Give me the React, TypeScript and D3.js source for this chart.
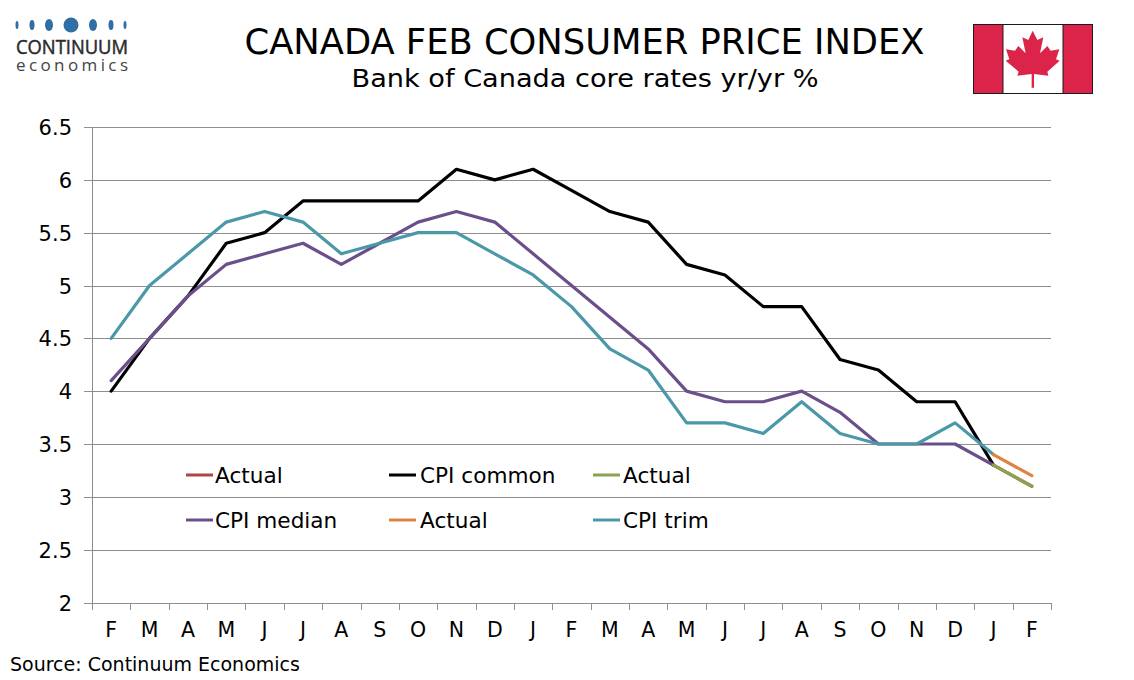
import React from "react";
import * as d3 from "d3";

const months = ["F","M","A","M","J","J","A","S","O","N","D","J","F","M","A","M","J","J","A","S","O","N","D","J","F"];
const yTicks = [2,2.5,3,3.5,4,4.5,5,5.5,6,6.5];
const common = [4.0,4.5,4.9,5.4,5.5,5.8,5.8,5.8,5.8,6.1,6.0,6.1,5.9,5.7,5.6,5.2,5.1,4.8,4.8,4.3,4.2,3.9,3.9,3.3];
const median = [4.1,4.5,4.9,5.2,5.3,5.4,5.2,5.4,5.6,5.7,5.6,5.3,5.0,4.7,4.4,4.0,3.9,3.9,4.0,3.8,3.5,3.5,3.5,3.3];
const trim = [4.5,5.0,5.3,5.6,5.7,5.6,5.3,5.4,5.5,5.5,5.3,5.1,4.8,4.4,4.2,3.7,3.7,3.6,3.9,3.6,3.5,3.5,3.7,3.4];
const actualCommon = [3.3,3.1];
const actualMedian = [3.3,3.1];
const actualTrim = [3.4,3.2];
const leaf = [[218,62],[232,90],[250,82],[240,130],[262,108],[272,122],[298,118],[288,148],[299,152],[262,185],[265,197],[222,192],[222,233],[215,233],[215,192],[172,197],[176,185],[137,152],[148,148],[138,118],[165,122],[175,108],[197,130],[187,82],[205,90]];
const dots = [[17,1.5,4],[32,2.5,5],[49,4,6],[71,7.5,7.5],[93,4,6],[111,2.5,5],[125,1.5,4]];

const FONT = "'DejaVu Sans', Verdana, sans-serif";
const COL = { common:"#000000", median:"#6a4f8a", trim:"#4a98a8", red:"#b0453f", green:"#8aa350", orange:"#dd8440" };

const x = d3.scaleBand<number>().domain(d3.range(months.length)).range([92,1051]);
const y = d3.scaleLinear().domain([2,6.5]).range([602.5,127]);
const cx = (i:number)=> (x(i) as number) + x.bandwidth()/2;
const line = d3.line<number>().x((_, i)=>cx(i)).y(d=>y(d));
const lineFrom = (start:number)=> d3.line<number>().x((_, i)=>cx(start+i)).y(d=>y(d));

const series = [
  {v:common,s:0,c:COL.common},{v:median,s:0,c:COL.median},{v:trim,s:0,c:COL.trim},
  {v:actualCommon,s:23,c:COL.red},{v:actualTrim,s:23,c:COL.orange},{v:actualMedian,s:23,c:COL.green},
];
const legend = [
  {t:"Actual",c:COL.red,x:186,y:475},{t:"CPI common",c:COL.common,x:389,y:475},{t:"Actual",c:COL.green,x:593,y:475},
  {t:"CPI median",c:COL.median,x:186,y:520},{t:"Actual",c:COL.orange,x:389,y:520},{t:"CPI trim",c:COL.trim,x:593,y:520},
];

export default function App(){
  return (
    <svg width={1134} height={680} style={{position:"absolute",left:0,top:0,background:"#fff"}} fontFamily={FONT}>
      {dots.map(([dx,rx,ry],i)=><ellipse key={i} cx={dx} cy={25} rx={rx} ry={ry} fill="#2f6fa6"/>)}
      <text x={16} y={54} fontSize={19.5} stroke="#2b2b2b" strokeWidth={0.5} fill="#2b2b2b" fontFamily="'Open Sans', sans-serif" textLength={112} lengthAdjust="spacingAndGlyphs">CONTINUUM</text>
      <text x={16} y={71} fontSize={17} fill="#444" fontFamily="'Open Sans', sans-serif" textLength={112}>economics</text>

      <text x={584.5} y={54} textAnchor="middle" fontSize={35} fill="#000" textLength={680} lengthAdjust="spacingAndGlyphs">CANADA FEB CONSUMER PRICE INDEX</text>
      <text x={585} y={87} textAnchor="middle" fontSize={25} fill="#000" textLength={467} lengthAdjust="spacingAndGlyphs">Bank of Canada core rates yr/yr %</text>

      <g>
        <rect x={973.5} y={24.5} width={119} height={69} fill="#fff" stroke="#1a1a1a"/>
        <rect x={974} y={25} width={29} height={68} fill="#dc2349"/>
        <rect x={1063} y={25} width={29} height={68} fill="#dc2349"/>
        <line x1={1003} x2={1003} y1={24} y2={94} stroke="#1a1a1a"/>
        <line x1={1063} x2={1063} y1={24} y2={94} stroke="#1a1a1a"/>
        <polygon fill="#dc2349" points={leaf.map(([a,b])=>`${960+a/3},${10+b/3}`).join(" ")}/>
      </g>

      {yTicks.map(t=>(
        <g key={t}>
          <line x1={84} x2={1051} y1={Math.round(y(t))+0.5} y2={Math.round(y(t))+0.5} stroke="#8e8e8e" strokeWidth={1}/>
          <text x={72} y={y(t)+8} textAnchor="end" fontSize={21} fill="#000">{t}</text>
        </g>
      ))}
      <line x1={92.5} x2={92.5} y1={127} y2={603} stroke="#8e8e8e"/>
      {d3.range(months.length+1).map(i=>{
        const px = Math.round(92+i*x.bandwidth())+0.5;
        return <line key={i} x1={px} x2={px} y1={603} y2={610} stroke="#8e8e8e"/>;
      })}
      {months.map((m,i)=><text key={i} x={cx(i)} y={637} textAnchor="middle" fontSize={20.5} fill="#000">{m}</text>)}

      {series.map((s,i)=>(
        <path key={i} d={(s.s===0?line:lineFrom(s.s))(s.v) as string} fill="none" stroke={s.c} strokeWidth={3.2} strokeLinejoin="round" strokeLinecap="round"/>
      ))}

      {legend.map((l,i)=>(
        <g key={i}>
          <line x1={l.x} x2={l.x+27} y1={l.y} y2={l.y} stroke={l.c} strokeWidth={3}/>
          <text x={l.x+(l.x===389?31:l.x===593?30:29)} y={l.y+7.5} fontSize={21.6} fill="#000">{l.t}</text>
        </g>
      ))}

      <text x={10} y={671} fontSize={19} fill="#000">Source: Continuum Economics</text>
    </svg>
  );
}
